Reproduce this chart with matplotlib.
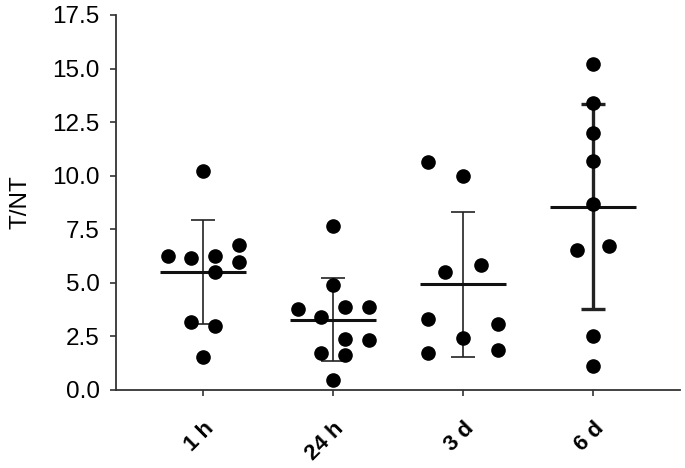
import matplotlib
matplotlib.use('Agg')
import matplotlib.pyplot as plt
import matplotlib.transforms as mtransforms
import numpy as np

# ===== Dados =====
grupos = ['1 h', '24 h', '3 d', '6 d']

# offsets horizontais (em unidades de categoria) e valores T/NT
t1h_x = [0.0, -0.27, -0.09, 0.09, 0.28, 0.28, 0.09, -0.09, 0.09, 0.0]
t1h_y = [10.23, 6.27, 6.14, 6.27, 6.77, 5.96, 5.48, 3.19, 3.00, 1.54]

t24h_x = [0.0, 0.0, -0.27, -0.09, 0.09, 0.28, 0.09, 0.28, -0.09, 0.09, 0.0]
t24h_y = [7.65, 4.90, 3.76, 3.39, 3.89, 3.89, 2.36, 2.33, 1.71, 1.63, 0.47]

t3d_x = [-0.27, 0.0, -0.14, 0.14, -0.27, 0.27, 0.0, -0.27, 0.27]
t3d_y = [10.63, 10.00, 5.48, 5.83, 3.31, 3.06, 2.44, 1.74, 1.84]

t6d_x = [0.0, 0.0, 0.0, 0.0, 0.0, -0.12, 0.12, 0.0, 0.0]
t6d_y = [15.20, 13.41, 11.98, 10.70, 8.66, 6.53, 6.73, 2.52, 1.12]

offsets = [t1h_x, t24h_x, t3d_x, t6d_x]
valores = [t1h_y, t24h_y, t3d_y, t6d_y]
largura_erro = [1.2, 1.2, 1.2, 2.4]

# ===== Gráfico =====
plt.rcParams['font.family'] = ['Liberation Sans', 'DejaVu Sans']
fig = plt.figure(figsize=(6.85, 4.68), dpi=100)
ax = fig.add_axes([0.169, 0.167, 0.824, 0.801])

for i, (dx, vals) in enumerate(zip(offsets, valores)):
    vals = np.array(vals)
    media = vals.mean()
    dp = vals.std(ddof=1)
    ax.errorbar(i, media, yerr=dp, fmt='none', ecolor='#222222',
                elinewidth=largura_erro[i], capsize=8.5, capthick=largura_erro[i], zorder=2)
    ax.plot([i - 0.33, i + 0.33], [media, media], color='#111111', lw=2.2,
            solid_capstyle='butt', zorder=3)
    ax.plot(i + np.array(dx), vals, 'o', color='black', ms=9.5, zorder=4)

ax.set_xlim(-0.67, 3.67)
ax.set_ylim(0, 17.5)
ax.set_yticks(np.arange(0, 17.6, 2.5))
ax.set_yticklabels([f'{v:.1f}' for v in np.arange(0, 17.6, 2.5)], fontsize=17.5)
ax.set_xticks(range(len(grupos)))
ax.set_xticklabels(grupos, fontsize=16, fontweight='bold', rotation=45,
                   ha='right', rotation_mode='anchor')
ax.set_ylabel('T/NT', fontsize=17.5, labelpad=15)

# desloca um pouco os rótulos do eixo x para a esquerda
desloc = mtransforms.ScaledTranslation(-7 / 100, 0, fig.dpi_scale_trans)
for lbl in ax.get_xticklabels():
    lbl.set_transform(lbl.get_transform() + desloc)

for lado in ['top', 'right']:
    ax.spines[lado].set_visible(False)
for lado in ['left', 'bottom']:
    ax.spines[lado].set_color('#333333')
    ax.spines[lado].set_linewidth(1.3)
ax.tick_params(axis='both', color='#333333', length=4.5, width=1.2)
ax.tick_params(axis='y', pad=7)
ax.tick_params(axis='x', pad=16)

plt.savefig('out.png', dpi=100)
